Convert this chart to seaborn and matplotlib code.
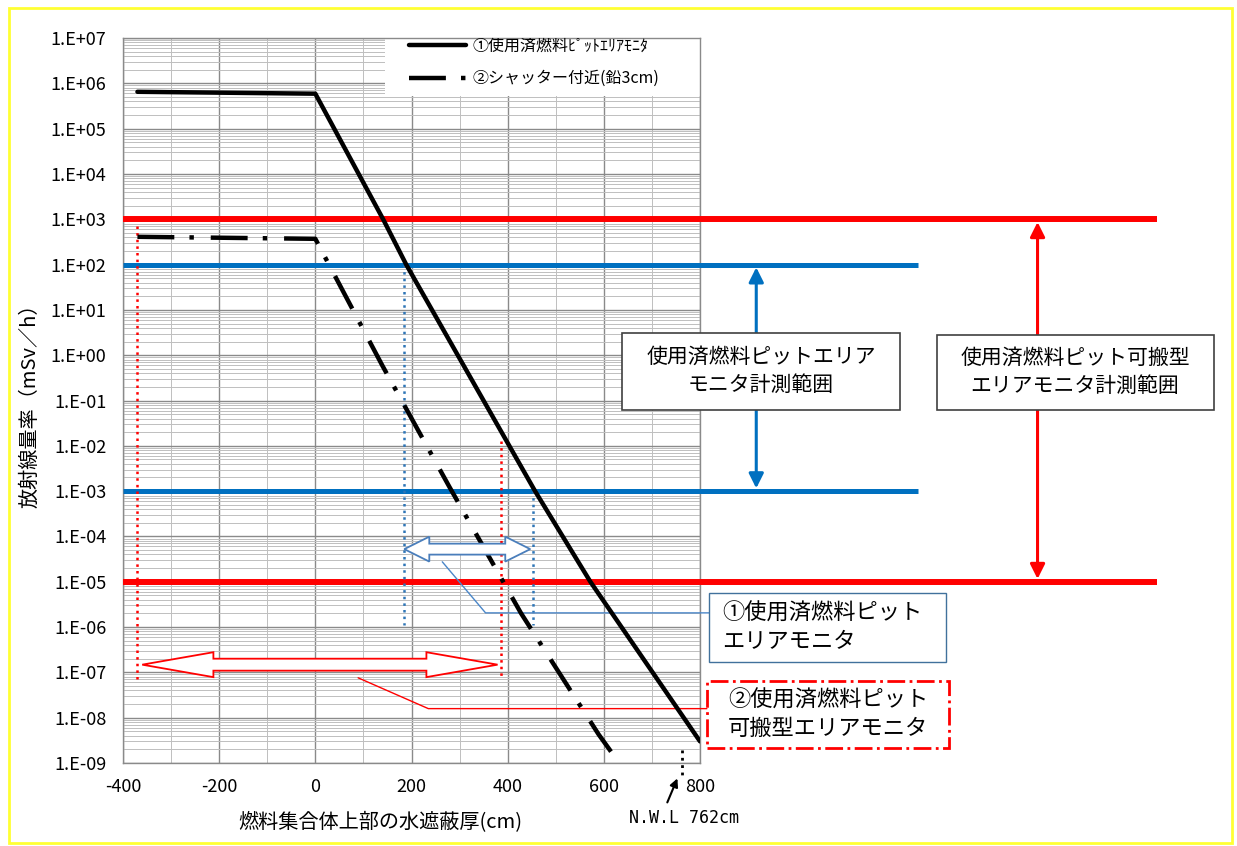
import numpy as np
import pandas as pd
import matplotlib.pyplot as plt
import seaborn as sns
from matplotlib.patches import Polygon, Rectangle
from matplotlib.ticker import LogLocator, MultipleLocator, FuncFormatter, NullFormatter

# -----------------------------
# データ
# -----------------------------
# ①使用済燃料ピットエリアモニタ
x_pit = [-370, 0, 141, 189, 457, 572, 800]
y_pit = [6.5e5, 5.9e5, 1e3, 1e2, 1e-3, 1e-5, 3e-9]

# ②シャッター付近(鉛3cm)
x_shutter = [-370, 0, 139, 279, 428, 589, 632]
y_shutter = [4.1e2, 3.7e2, 0.6, 1.23e-3, 2.0e-6, 4.3e-9, 1e-9]

label_pit = "①使用済燃料ﾋﾟｯﾄｴﾘｱﾓﾆﾀ"
label_shutter = "②シャッター付近(鉛3cm)"

# 計測範囲
range_pit = [1e2, 1e-3]        # 使用済燃料ピットエリアモニタ
range_portable = [1e3, 1e-5]   # 使用済燃料ピット可搬型エリアモニタ

nwl = 762  # N.W.L (cm)

W, H = 1237, 846


def fig_xy(px, py):
    return px / W, 1 - py / H


def hollow_arrow(ax, x0, x1, ylog, shaft, head, hlen, color):
    pts = [(x0, ylog), (x0 + hlen, ylog + head), (x0 + hlen, ylog + shaft),
           (x1 - hlen, ylog + shaft), (x1 - hlen, ylog + head), (x1, ylog),
           (x1 - hlen, ylog - head), (x1 - hlen, ylog - shaft),
           (x0 + hlen, ylog - shaft), (x0 + hlen, ylog - head)]
    pts = [(x, 10 ** y) for x, y in pts]
    ax.add_patch(Polygon(pts, closed=True, facecolor="white", edgecolor=color,
                         lw=1.3, zorder=6, clip_on=False))


sns.set_style("white")
plt.rcParams["font.family"] = ["Noto Sans CJK JP", "DejaVu Sans"]
plt.rcParams["axes.unicode_minus"] = False
plt.rcParams["text.color"] = "black"

fig = plt.figure(figsize=(W / 100, H / 100), dpi=100)
ax = fig.add_axes([123 / W, 1 - 763 / H, 577 / W, 725 / H])

ax.set_yscale("log")
ax.set_xlim(-400, 800)
ax.set_ylim(1e-9, 1e7)

# -----------------------------
# グリッド
# -----------------------------
ax.xaxis.set_major_locator(MultipleLocator(200))
ax.xaxis.set_minor_locator(MultipleLocator(100))
ax.yaxis.set_major_locator(LogLocator(base=10, numticks=30))
ax.yaxis.set_minor_locator(LogLocator(base=10, subs=np.arange(2, 10), numticks=300))
ax.yaxis.set_major_formatter(FuncFormatter(lambda v, p: f"1.E{int(round(np.log10(v))):+03d}"))
ax.yaxis.set_minor_formatter(NullFormatter())
ax.grid(which="major", color="#8a8a8a", lw=1.0)
ax.grid(which="minor", color="#bfbfbf", lw=0.7)
ax.set_axisbelow(True)
ax.tick_params(which="both", length=0, labelcolor="black")
ax.tick_params(axis="y", pad=12, labelsize=13)
ax.tick_params(axis="x", pad=11, labelsize=13)
for s in ax.spines.values():
    s.set_color("#8a8a8a")
    s.set_linewidth(1.0)

# 凡例の下地（グリッドを隠す）
ax.add_patch(Rectangle(((385 - 123) / 577, (763 - 96) / 725), (700 - 385) / 577,
                       (96 - 38) / 725, transform=ax.transAxes, facecolor="white",
                       edgecolor="none", zorder=2))

# -----------------------------
# 計測範囲の線
# -----------------------------
red = "#FF0000"
blue = "#0070C0"
for lvl in range_portable:
    ax.plot([-400, 1751], [lvl, lvl], color=red, lw=4.3, clip_on=False,
            solid_capstyle="butt", zorder=3)
for lvl in range_pit:
    ax.plot([-400, 1254], [lvl, lvl], color=blue, lw=3.6, clip_on=False,
            solid_capstyle="butt", zorder=3)

ax.annotate("", xy=(917, range_pit[0]), xytext=(917, range_pit[1]),
            arrowprops=dict(arrowstyle="<|-|>", color=blue, lw=2.2,
                            mutation_scale=22, shrinkA=2, shrinkB=2),
            annotation_clip=False)
ax.annotate("", xy=(1502, range_portable[0]), xytext=(1502, range_portable[1]),
            arrowprops=dict(arrowstyle="<|-|>", color=red, lw=2.2,
                            mutation_scale=22, shrinkA=2, shrinkB=2),
            annotation_clip=False)

# -----------------------------
# 線量率曲線
# -----------------------------
sns.lineplot(x=x_pit, y=y_pit, ax=ax, color="black", lw=3.2, label=label_pit,
             sort=False, estimator=None, zorder=5)
sns.lineplot(x=x_shutter, y=y_shutter, ax=ax, color="black", lw=3.2,
             linestyle=(0, (8.3, 3.4, 1.0, 3.8)), label=label_shutter,
             sort=False, estimator=None, zorder=5)

# -----------------------------
# 点線・矢印
# -----------------------------
ax.plot([-370, -370], [7.2e2, 7e-8], color=red, lw=1.8, ls=":", zorder=4)
ax.plot([387, 387], [1.3e-2, 7e-8], color=red, lw=1.8, ls=":", zorder=4)
ax.plot([185, 185], [range_pit[0], 1.1e-6], color="#2E75B6", lw=1.8, ls=":", zorder=4)
ax.plot([453, 453], [range_pit[1], 1.1e-6], color="#2E75B6", lw=1.8, ls=":", zorder=4)

hollow_arrow(ax, 185, 447, -4.28, 0.121, 0.275, 52, "#4A7EBB")
hollow_arrow(ax, -360, 379, -6.83, 0.132, 0.275, 148, red)

ax.plot([264, 354, 819], [10 ** -4.56, 10 ** -5.687, 10 ** -5.687],
        color="#4A86C8", lw=1.0, clip_on=False, zorder=4)
ax.plot([89, 235, 815], [10 ** -7.12, 10 ** -7.80, 10 ** -7.80],
        color=red, lw=1.0, clip_on=False, zorder=4)

# N.W.L
ax.plot([nwl, nwl], [1.9e-9, 5.5e-10], color="black", lw=2.0, ls=":",
        clip_on=False, zorder=5)
ax.annotate("", xy=(753, 10 ** -9.34), xytext=(732, 10 ** -9.87),
            arrowprops=dict(arrowstyle="-|>", color="black", lw=1.5,
                            mutation_scale=12, shrinkA=0, shrinkB=0),
            annotation_clip=False)
fig.text(*fig_xy(684, 818), "N.W.L 762cm", ha="center", va="center",
         fontsize=12, family="DejaVu Sans Mono")

# -----------------------------
# ラベル・凡例
# -----------------------------
ax.set_xlabel("燃料集合体上部の水遮蔽厚(cm)", fontsize=14.5, va="center", color="black")
ax.xaxis.set_label_coords((380 - 123) / 577, -(823 - 763) / 725)
ax.set_ylabel("放射線量率（mSv／h）", fontsize=14.5, va="center", color="black")
ax.yaxis.set_label_coords(-(123 - 30) / 577, 0.5)

leg = ax.legend(loc="upper left", bbox_to_anchor=((401 - 123) / 577, 1.012),
                frameon=False, fontsize=11.5, handlelength=3.6, handletextpad=0.4,
                labelspacing=1.0, borderaxespad=0, borderpad=0.5)
leg.set_zorder(10)

# -----------------------------
# 注記ボックス
# -----------------------------
def box(x0, y0, x1, y1, edge, lw=1.2, ls="-"):
    fx, fy = fig_xy(x0, y1)
    fig.add_artist(Rectangle((fx, fy), (x1 - x0) / W, (y1 - y0) / H,
                             transform=fig.transFigure, facecolor="white",
                             edgecolor=edge, lw=lw, ls=ls, zorder=20))


box(622, 333, 900, 410, "#404040")
fig.text(*fig_xy(761, 371), "使用済燃料ピットエリア\nモニタ計測範囲", ha="center",
         va="center", fontsize=15, linespacing=1.35, zorder=21)
box(937, 335, 1214, 410, "#404040")
fig.text(*fig_xy(1075, 372), "使用済燃料ピット可搬型\nエリアモニタ計測範囲", ha="center",
         va="center", fontsize=15, linespacing=1.35, zorder=21)
box(709, 593, 946, 662, "#41719C", lw=1.0)
fig.text(*fig_xy(722, 627), "①使用済燃料ピット\nエリアモニタ", ha="left",
         va="center", fontsize=16, linespacing=1.3, zorder=21)
box(707, 681, 949, 748, red, lw=2.0, ls="-.")
fig.text(*fig_xy(828, 714), "②使用済燃料ピット\n可搬型エリアモニタ", ha="center",
         va="center", fontsize=16, linespacing=1.3, zorder=21)

# 外枠
fig.add_artist(Rectangle(fig_xy(9, 843), (1232 - 9) / W, (843 - 8) / H,
                         transform=fig.transFigure, fill=False,
                         edgecolor="#FFFF33", lw=2.0, zorder=30))

fig.savefig("out.png", dpi=100)
